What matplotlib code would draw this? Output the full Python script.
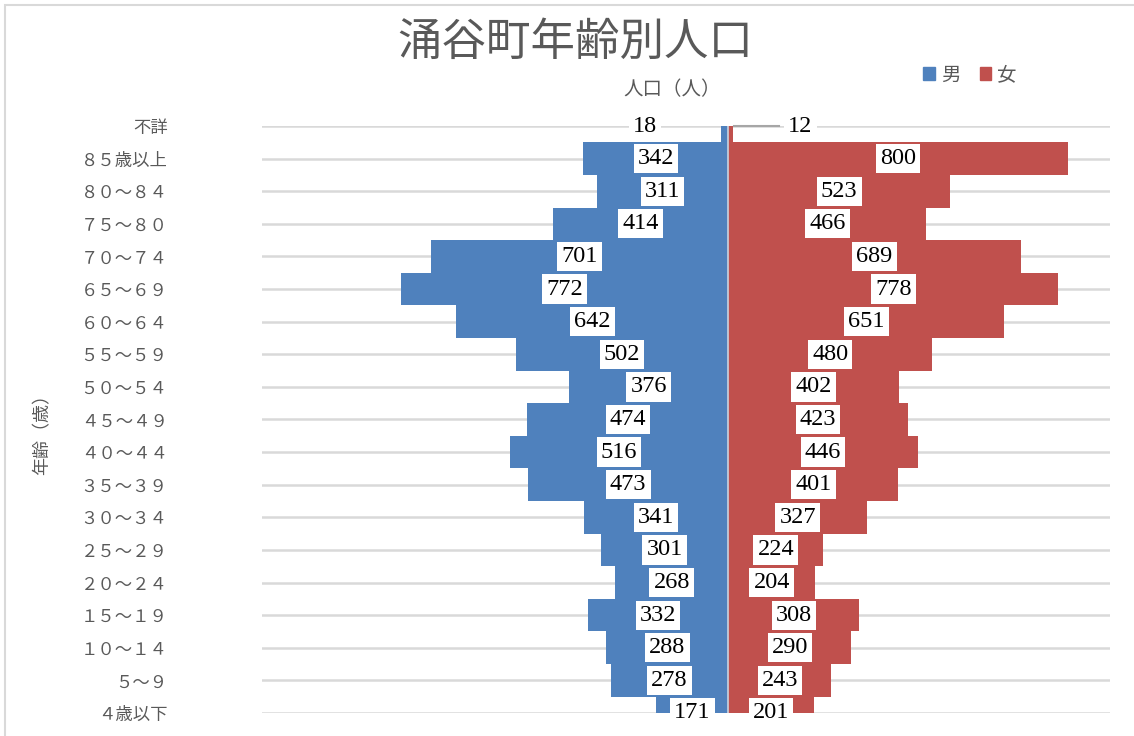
import numpy as np
import matplotlib
matplotlib.use("Agg")
import matplotlib.pyplot as plt
from matplotlib.patches import Patch, Rectangle

plt.rcParams['font.family'] = ['Noto Sans CJK JP', 'DejaVu Sans']

# age groups, top to bottom as in the chart
ages = ['不詳', '８５歳以上', '８０～８４', '７５～８０', '７０～７４', '６５～６９', '６０～６４',
        '５５～５９', '５０～５４', '４５～４９', '４０～４４', '３５～３９', '３０～３４',
        '２５～２９', '２０～２４', '１５～１９', '１０～１４', '５～９', '４歳以下']
male = [18, 342, 311, 414, 701, 772, 642, 502, 376, 474, 516, 473, 341, 301, 268, 332, 288, 278, 171]
female = [12, 800, 523, 466, 689, 778, 651, 480, 402, 423, 446, 401, 327, 224, 204, 308, 290, 243, 201]

blue = '#4F81BD'
red = '#C0504D'
grey = '#595959'

W, H = 1134, 736
fig = plt.figure(figsize=(W / 100, H / 100), dpi=100)
ax = fig.add_axes([262 / W, 1 - 713 / H, (1110 - 262) / W, (713 - 126) / H])

y = np.arange(len(ages))
m = np.array(male)
f = np.array(female)

ax.barh(y, -m, height=1.0, color=blue, zorder=2)
ax.barh(y, f, height=1.0, color=red, zorder=2)
ax.axvline(0, color='#C9D3E0', lw=1.2, zorder=3)

ax.set_xlim(-1100, 900)
ax.set_ylim(len(ages) - 1, 0)
ax.set_yticks(y)
ax.set_yticklabels(ages, fontsize=12.5, color=grey)
ax.tick_params(axis='y', length=0, pad=68)
ax.set_xticks([])
ax.grid(axis='y', color='#D9D9D9', lw=1.8, zorder=0)
ax.set_axisbelow(True)
for s in ax.spines.values():
    s.set_visible(False)

# data labels (white boxes at the middle of each bar)
box = dict(facecolor='white', edgecolor='none', pad=3)
for i in range(len(ages)):
    if i == 0:
        xm, xf = -196, 170
        ax.plot([14, 120], [0, 0], color='#A6A6A6', lw=1.5, zorder=3, clip_on=False)
    else:
        xm, xf = -male[i] / 2, female[i] / 2
    ax.text(xm, i, str(male[i]), ha='center', va='center', fontsize=17.5,
            family='Liberation Serif', color='black', bbox=box, zorder=4)
    ax.text(xf, i, str(female[i]), ha='center', va='center', fontsize=17.5,
            family='Liberation Serif', color='black', bbox=box, zorder=4)

fig.text(575 / W, 1 - 42 / H, '涌谷町年齢別人口', ha='center', va='center',
         fontsize=32, color=grey)
fig.text(672 / W, 1 - 90 / H, '人口（人）', ha='center', va='center',
         fontsize=14, color=grey)
fig.text(42 / W, 1 - 430 / H, '年齢（歳）', ha='center', va='center',
         fontsize=13, color=grey, rotation=90)

handles = [Patch(color=blue, label='男'), Patch(color=red, label='女')]
fig.legend(handles=handles, loc='center', bbox_to_anchor=(970 / W, 1 - 75 / H),
           ncol=2, frameon=False, fontsize=14, handlelength=0.6, handleheight=0.6,
           handletextpad=0.3, columnspacing=1.0, labelcolor=grey)

fig.patches.append(Rectangle((5 / W, -0.1), 1.2, 1 - 5 / H + 0.1, transform=fig.transFigure,
                             fill=False, edgecolor='#D9D9D9', lw=1.5))

fig.savefig('out.png', dpi=100)
